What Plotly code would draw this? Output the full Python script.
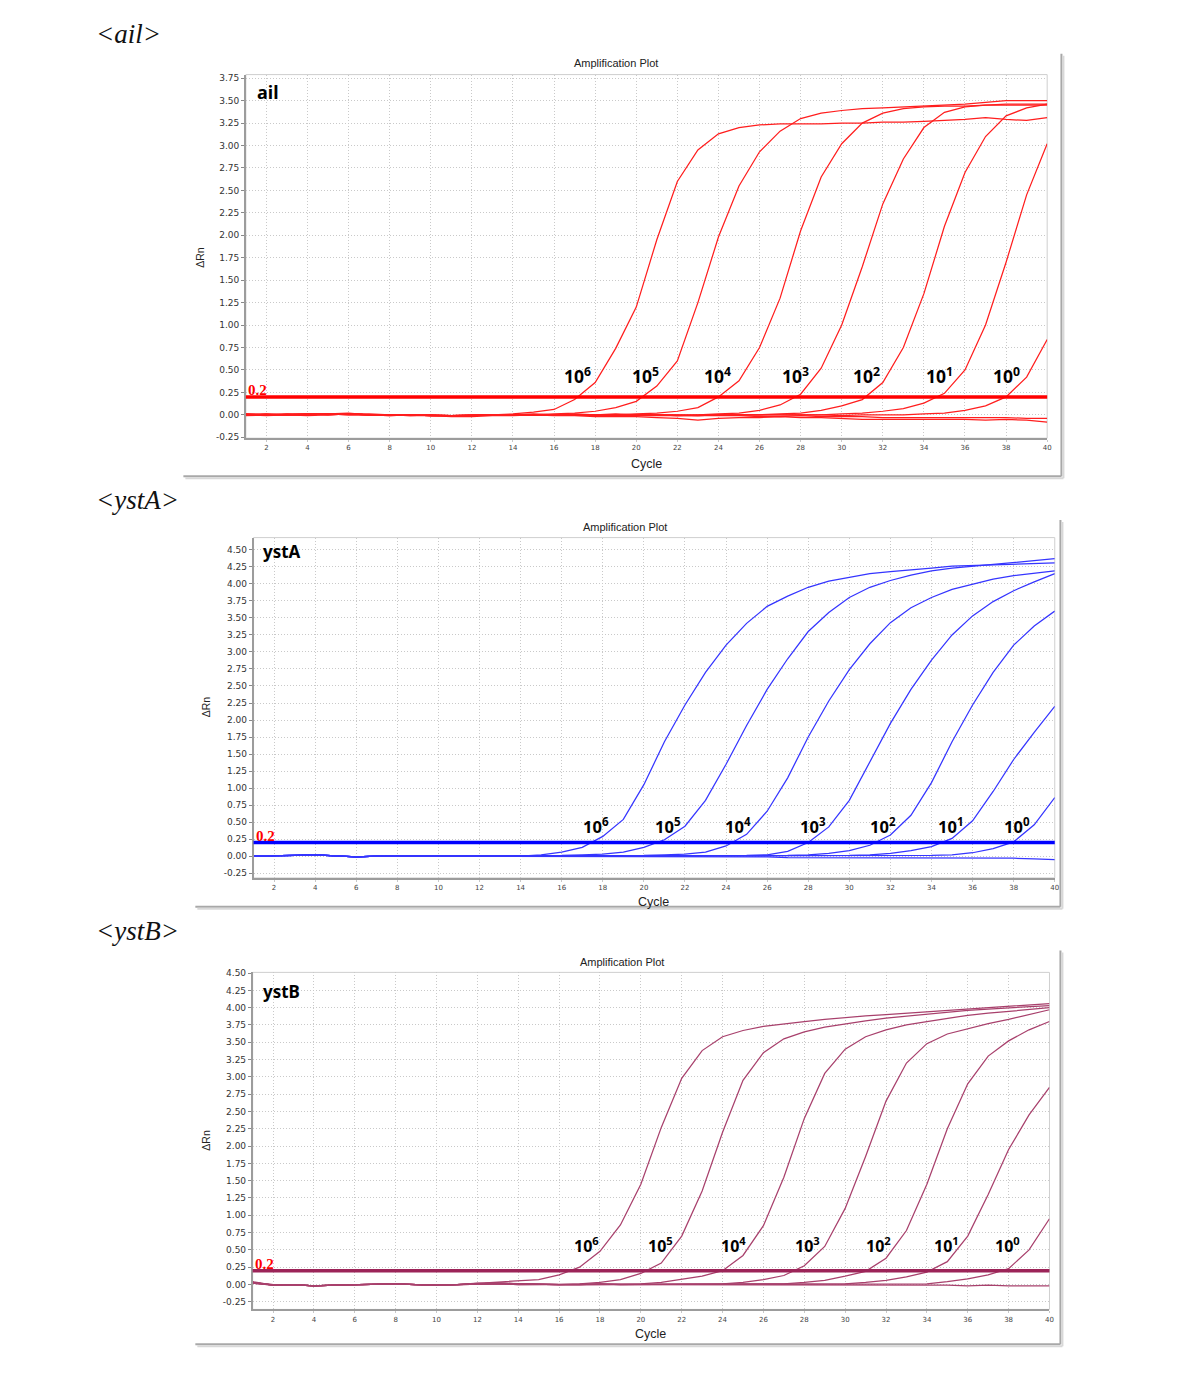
import plotly.graph_objects as go

# ---------------- DATA ----------------
cycles = list(range(1, 41))
dilution_labels = ["10<sup>6</sup>", "10<sup>5</sup>", "10<sup>4</sup>", "10<sup>3</sup>",
                   "10<sup>2</sup>", "10<sup>1</sup>", "10<sup>0</sup>"]
threshold = 0.2

# ail  (delta Rn per cycle)
ail_e6 = [-0.01, 0.00, 0.00, 0.01, 0.01, 0.02, 0.00, 0.00, 0.00, -0.01, -0.01, -0.01, 0.00, 0.01, 0.03, 0.06, 0.17, 0.36, 0.74, 1.20,
          1.95, 2.60, 2.95, 3.13, 3.20, 3.23, 3.24, 3.24, 3.24, 3.25, 3.25, 3.26, 3.26, 3.27, 3.28, 3.29, 3.31, 3.29, 3.28, 3.31]
ail_e5 = [0.00, 0.01, 0.00, 0.00, 0.01, 0.01, 0.00, -0.01, 0.00, 0.00, -0.01, -0.01, 0.00, 0.00, 0.00, 0.01, 0.02, 0.04, 0.08, 0.15,
          0.32, 0.60, 1.25, 1.98, 2.55, 2.93, 3.16, 3.30, 3.36, 3.39, 3.41, 3.42, 3.43, 3.44, 3.45, 3.46, 3.48, 3.50, 3.50, 3.50]
ail_e4 = [0.00, 0.00, 0.01, 0.01, 0.00, 0.01, 0.01, 0.00, 0.00, -0.01, -0.01, 0.00, 0.00, 0.00, 0.01, 0.00, 0.00, 0.00, 0.00, 0.01,
          0.02, 0.04, 0.08, 0.20, 0.38, 0.75, 1.30, 2.05, 2.65, 3.02, 3.25, 3.36, 3.41, 3.43, 3.44, 3.44, 3.45, 3.45, 3.45, 3.45]
ail_e3 = [0.01, 0.00, 0.00, 0.01, 0.00, 0.01, 0.00, 0.00, -0.01, 0.00, -0.01, -0.01, 0.00, 0.00, 0.00, 0.00, 0.01, 0.00, 0.00, 0.00,
          0.00, 0.00, 0.00, 0.01, 0.02, 0.05, 0.11, 0.23, 0.52, 1.00, 1.65, 2.35, 2.85, 3.20, 3.37, 3.43, 3.45, 3.46, 3.46, 3.46]
ail_e2 = [0.00, -0.01, 0.00, 0.00, 0.01, 0.01, 0.00, 0.00, 0.00, -0.01, -0.01, 0.00, 0.00, 0.00, 0.00, 0.00, 0.00, 0.00, 0.01, 0.00,
          0.00, -0.01, -0.01, 0.00, 0.00, 0.00, 0.01, 0.02, 0.05, 0.10, 0.17, 0.36, 0.75, 1.35, 2.10, 2.70, 3.10, 3.33, 3.42, 3.46]
ail_e1 = [0.01, 0.00, 0.00, 0.01, 0.01, 0.00, 0.00, -0.01, 0.00, 0.00, -0.01, 0.00, 0.00, 0.00, 0.00, 0.00, 0.00, 0.00, 0.00, 0.00,
          0.00, -0.01, 0.00, 0.00, 0.00, 0.00, 0.00, 0.00, 0.00, 0.01, 0.02, 0.04, 0.07, 0.13, 0.24, 0.50, 1.00, 1.70, 2.45, 3.02]
ail_e0 = [0.00, 0.00, 0.01, 0.00, 0.01, 0.01, 0.00, 0.00, 0.00, -0.01, -0.01, -0.01, 0.00, 0.00, 0.00, 0.00, 0.00, 0.00, 0.00, 0.00,
          0.00, 0.00, -0.01, 0.00, 0.00, 0.00, 0.00, 0.00, 0.00, -0.01, 0.00, 0.00, 0.00, 0.01, 0.02, 0.05, 0.10, 0.20, 0.42, 0.84]
ail_ntc1 = [0.00, 0.01, 0.00, -0.01, 0.00, 0.01, 0.00, 0.00, -0.01, -0.01, -0.02, -0.02, -0.01, -0.01, 0.00, -0.01, -0.01, -0.02, -0.02, -0.02,
            -0.03, -0.04, -0.06, -0.04, -0.03, -0.03, -0.02, -0.03, -0.03, -0.04, -0.05, -0.05, -0.05, -0.05, -0.05, -0.05, -0.06, -0.05, -0.06, -0.08]
ail_ntc2 = [0.01, 0.00, 0.00, 0.00, 0.01, 0.00, 0.00, 0.00, 0.00, -0.01, -0.01, -0.01, 0.00, 0.00, 0.00, 0.00, 0.00, -0.01, -0.01, -0.01,
            -0.01, -0.01, -0.01, -0.01, -0.01, -0.02, -0.02, -0.01, -0.02, -0.02, -0.02, -0.03, -0.03, -0.03, -0.03, -0.03, -0.03, -0.03, -0.04, -0.04]
ail_ct = [17.18, 20.5, 23.98, 27.78, 31.26, 34.82, 38.06]

# ystA
ystA_e6 = [0.00, 0.00, 0.01, 0.02, 0.01, -0.01, 0.00, 0.00, 0.00, 0.00, 0.00, 0.00, 0.00, 0.00, 0.02, 0.06, 0.13, 0.29, 0.54, 1.05,
           1.68, 2.22, 2.70, 3.10, 3.42, 3.67, 3.82, 3.95, 4.04, 4.10, 4.15, 4.18, 4.20, 4.23, 4.26, 4.27, 4.28, 4.29, 4.30, 4.31]
ystA_e5 = [0.00, 0.00, 0.01, 0.02, 0.01, -0.01, 0.00, 0.00, 0.00, 0.00, 0.00, 0.00, 0.00, 0.00, 0.01, 0.01, 0.02, 0.03, 0.06, 0.13,
           0.24, 0.44, 0.82, 1.35, 1.92, 2.45, 2.90, 3.30, 3.58, 3.80, 3.95, 4.05, 4.13, 4.19, 4.23, 4.26, 4.29, 4.32, 4.35, 4.37]
ystA_e4 = [0.00, 0.00, 0.01, 0.02, 0.01, -0.01, 0.00, 0.00, 0.00, 0.00, 0.00, 0.00, 0.00, 0.00, 0.00, 0.00, 0.00, 0.00, 0.01, 0.01,
           0.02, 0.03, 0.06, 0.15, 0.32, 0.66, 1.15, 1.75, 2.28, 2.74, 3.12, 3.43, 3.65, 3.80, 3.92, 4.00, 4.07, 4.12, 4.16, 4.19]
ystA_e3 = [0.00, 0.00, 0.01, 0.02, 0.01, -0.01, 0.00, 0.00, 0.00, 0.00, 0.00, 0.00, 0.00, 0.00, 0.00, 0.00, 0.00, 0.00, 0.00, 0.00,
           0.00, 0.00, 0.01, 0.01, 0.01, 0.02, 0.07, 0.20, 0.43, 0.82, 1.38, 1.95, 2.45, 2.88, 3.25, 3.53, 3.74, 3.90, 4.03, 4.15]
ystA_e2 = [0.00, 0.00, 0.01, 0.02, 0.01, -0.01, 0.00, 0.00, 0.00, 0.00, 0.00, 0.00, 0.00, 0.00, 0.00, 0.00, 0.00, 0.00, 0.00, 0.00,
           0.00, 0.00, 0.00, 0.00, 0.00, 0.00, 0.01, 0.02, 0.04, 0.08, 0.16, 0.31, 0.60, 1.08, 1.68, 2.22, 2.70, 3.10, 3.38, 3.60]
ystA_e1 = [0.00, 0.00, 0.01, 0.02, 0.01, -0.01, 0.00, 0.00, 0.00, 0.00, 0.00, 0.00, 0.00, 0.00, 0.00, 0.00, 0.00, 0.00, 0.00, 0.00,
           0.00, 0.00, 0.00, 0.00, 0.00, 0.00, 0.00, 0.00, 0.00, 0.01, 0.02, 0.04, 0.08, 0.14, 0.26, 0.52, 0.95, 1.42, 1.82, 2.20]
ystA_e0 = [0.00, 0.00, 0.01, 0.02, 0.01, -0.01, 0.00, 0.00, 0.00, 0.00, 0.00, 0.00, 0.00, 0.00, 0.00, 0.00, 0.00, 0.00, 0.00, 0.00,
           0.00, 0.00, 0.00, 0.00, 0.00, 0.00, 0.00, 0.00, 0.00, 0.00, 0.00, 0.00, 0.00, 0.01, 0.02, 0.05, 0.11, 0.21, 0.46, 0.86]
ystA_ntc = [0.00, 0.00, 0.01, 0.02, 0.01, -0.01, 0.00, 0.00, 0.00, 0.00, 0.00, 0.00, 0.00, 0.00, 0.00, 0.00, 0.00, 0.00, 0.00, 0.00,
            0.00, 0.00, 0.00, 0.00, 0.00, -0.01, -0.02, -0.02, -0.02, -0.02, -0.02, -0.02, -0.02, -0.03, -0.03, -0.03, -0.03, -0.03, -0.04, -0.05]
ystA_ct = [17.41, 20.93, 24.32, 27.99, 31.38, 34.69, 37.91]

# ystB
ystB_e6 = [0.04, -0.01, 0.00, -0.02, -0.01, 0.00, 0.00, 0.01, 0.00, -0.01, 0.00, 0.02, 0.03, 0.05, 0.07, 0.14, 0.25, 0.48, 0.86, 1.45,
           2.27, 2.98, 3.38, 3.58, 3.67, 3.73, 3.77, 3.80, 3.83, 3.86, 3.88, 3.90, 3.92, 3.95, 3.97, 3.99, 4.01, 4.03, 4.05, 4.06]
ystB_e5 = [0.03, 0.00, 0.00, -0.02, -0.01, 0.00, 0.00, 0.01, 0.00, -0.01, 0.00, 0.02, 0.02, 0.01, 0.00, 0.00, 0.01, 0.03, 0.07, 0.16,
           0.31, 0.70, 1.35, 2.20, 2.95, 3.35, 3.55, 3.65, 3.72, 3.77, 3.81, 3.85, 3.88, 3.91, 3.94, 3.96, 3.98, 4.00, 4.02, 4.03]
ystB_e4 = [0.02, -0.01, 0.00, -0.02, -0.01, 0.00, 0.00, 0.01, 0.00, -0.01, 0.00, 0.01, 0.01, 0.00, 0.00, 0.00, 0.00, 0.01, 0.01, 0.01,
           0.03, 0.07, 0.12, 0.20, 0.42, 0.85, 1.55, 2.40, 3.05, 3.40, 3.58, 3.68, 3.75, 3.80, 3.85, 3.89, 3.92, 3.95, 3.98, 4.00]
ystB_e3 = [0.03, -0.01, 0.00, -0.02, -0.01, 0.00, 0.00, 0.01, 0.00, -0.01, 0.00, 0.01, 0.02, 0.01, 0.00, 0.00, 0.00, 0.01, 0.00, 0.00,
           0.00, 0.01, 0.01, 0.01, 0.03, 0.07, 0.13, 0.27, 0.55, 1.10, 1.85, 2.65, 3.20, 3.48, 3.62, 3.70, 3.77, 3.83, 3.90, 3.97]
ystB_e2 = [0.02, 0.00, 0.00, -0.02, -0.01, 0.00, 0.00, 0.01, 0.00, -0.01, 0.00, 0.01, 0.01, 0.01, 0.00, 0.00, 0.00, 0.00, 0.00, 0.00,
           0.00, 0.00, 0.01, 0.00, 0.00, 0.00, 0.01, 0.03, 0.06, 0.12, 0.19, 0.38, 0.78, 1.45, 2.25, 2.90, 3.30, 3.52, 3.68, 3.80]
ystB_e1 = [0.03, -0.01, 0.00, -0.02, -0.01, 0.00, 0.00, 0.01, 0.00, -0.01, 0.00, 0.01, 0.02, 0.01, 0.00, 0.00, 0.00, 0.00, 0.00, 0.00,
           0.00, 0.00, 0.00, 0.00, 0.00, 0.01, 0.00, 0.00, 0.00, 0.01, 0.03, 0.06, 0.11, 0.18, 0.33, 0.70, 1.30, 1.95, 2.45, 2.85]
ystB_e0 = [0.02, -0.01, 0.00, -0.02, -0.01, 0.00, 0.00, 0.01, 0.00, -0.01, 0.00, 0.01, 0.01, 0.00, 0.00, 0.00, 0.00, 0.00, 0.00, 0.00,
           0.00, 0.00, 0.00, 0.00, 0.00, 0.00, 0.00, 0.00, 0.00, 0.00, 0.00, 0.00, 0.00, 0.01, 0.04, 0.08, 0.14, 0.23, 0.50, 0.95]
ystB_ntc = [0.03, -0.01, 0.00, -0.02, -0.01, 0.00, 0.00, 0.01, 0.00, -0.01, 0.00, 0.01, 0.02, 0.01, 0.00, 0.00, 0.00, 0.01, 0.00, 0.00,
            0.00, 0.00, 0.00, 0.00, 0.00, -0.01, 0.00, 0.00, -0.01, -0.01, -0.01, 0.00, -0.01, -0.01, -0.01, -0.02, -0.01, -0.02, -0.02, -0.02]
ystB_ct = [16.8, 20.4, 24.0, 27.6, 31.1, 34.4, 37.4]

# ---------------- LAYOUT HELPERS ----------------
W, H = 1194, 1386


def px(x):
    return x / W


def py(y):
    return 1 - y / H


panels = [
    dict(gene="ail", curves=[ail_e6, ail_e5, ail_e4, ail_e3, ail_e2, ail_e1, ail_e0, ail_ntc1, ail_ntc2],
         ct=ail_ct, color="#ff1e1e", thr_color="#ff0000",
         box=(246.7, 1050.7, 71, 436.7), yrange=[-0.26, 3.79], ymax=3.75,
         card=(184, 50, 1065, 475), head_y=30, title_xy=(618, 59), yt_xy=(200, 255), xt_xy=(649, 463),
         gene_xy=(256, 89), gene_size=18, lab_y=0.44, lab_dx=-0.05, lab_size=17.5),
    dict(gene="ystA", curves=[ystA_e6, ystA_e5, ystA_e4, ystA_e3, ystA_e2, ystA_e1, ystA_e0, ystA_ntc],
         ct=ystA_ct, color="#3535ff", thr_color="#0000ff",
         box=(254.4, 1058.3, 536.7, 879), yrange=[-0.32, 4.68], ymax=4.5,
         card=(196, 519, 1064, 908), head_y=499, title_xy=(627, 526), yt_xy=(207, 707), xt_xy=(656, 903),
         gene_xy=(262, 551), gene_size=17, lab_y=0.44, lab_dx=0.25, lab_size=16.5),
    dict(gene="ystB", curves=[ystB_e6, ystB_e5, ystB_e4, ystB_e3, ystB_e2, ystB_e1, ystB_e0, ystB_ntc],
         ct=ystB_ct, color="#a8406c", thr_color="#9c2458",
         box=(253.5, 1053, 974, 1313), yrange=[-0.36, 4.51], ymax=4.5,
         card=(196, 952, 1064, 1348), head_y=932, title_xy=(624, 964), yt_xy=(207, 1143), xt_xy=(653, 1338),
         gene_xy=(262, 993), gene_size=17, lab_y=0.57, lab_dx=0.55, lab_size=16),
]

fig = go.Figure()
shapes = []
annotations = []
layout_axes = {}

for i, p in enumerate(panels):
    n = "" if i == 0 else str(i + 1)
    xa, ya = "x" + n, "y" + n
    x0, x1, ytop, ybot = p["box"]

    for c in p["curves"]:
        fig.add_trace(go.Scatter(x=cycles, y=c, mode="lines", xaxis=xa, yaxis=ya,
                                 line=dict(color=p["color"], width=1.25), hoverinfo="skip"))

    yt = []
    v = -0.25
    while v <= p["ymax"] + 1e-9:
        yt.append(round(v, 2))
        v += 0.25

    layout_axes["xaxis" + n] = dict(
        domain=[px(x0), px(x1)], range=[1, 40], anchor=ya,
        tickvals=list(range(2, 41, 2)), ticks="outside", ticklen=2, tickcolor="#c8c8c8",
        tickfont=dict(family="DejaVu Sans", size=7, color="#444"),
        showgrid=True, gridcolor="#c9c9c9", griddash="1px,2px", gridwidth=1,
        showline=True, linecolor="#9c9c9c", linewidth=1.5, zeroline=False)
    layout_axes["yaxis" + n] = dict(
        domain=[py(ybot), py(ytop)], range=p["yrange"], anchor=xa,
        tickvals=yt, ticktext=[f"{t:.2f}" for t in yt], ticks="outside", ticklen=3, tickcolor="#888",
        tickfont=dict(family="DejaVu Sans", size=9, color="#333"),
        showgrid=True, gridcolor="#c9c9c9", griddash="1px,2px", gridwidth=1,
        showline=True, linecolor="#9c9c9c", linewidth=1.5, zeroline=False)

    # plot-area light border (top/right)
    shapes.append(dict(type="rect", xref=xa + " domain", yref=ya + " domain", x0=0, x1=1, y0=0, y1=1,
                       line=dict(color="#cfcfcf", width=1), layer="below"))
    # threshold line
    shapes.append(dict(type="line", xref=xa + " domain", yref=ya, x0=0, x1=1, y0=threshold, y1=threshold,
                       line=dict(color=p["thr_color"], width=3.5), layer="above"))
    # card shadow (right and bottom)
    cl, ct_, cr, cb = p["card"]
    for off, col, wd in [(0, "#a8a8a8", 2), (2, "#d8d8d8", 2)]:
        shapes.append(dict(type="line", xref="paper", yref="paper", x0=px(cr + off), x1=px(cr + off),
                           y0=py(ct_ + off), y1=py(cb + off), line=dict(color=col, width=wd)))
        shapes.append(dict(type="line", xref="paper", yref="paper", x0=px(cl + off), x1=px(cr + off),
                           y0=py(cb + off), y1=py(cb + off), line=dict(color=col, width=wd)))

    # section heading
    annotations.append(dict(xref="paper", yref="paper", x=px(94), y=py(p["head_y"]), xanchor="left", yanchor="middle",
                            text="&lt;" + p["gene"] + "&gt;", showarrow=False,
                            font=dict(family="Liberation Serif", size=27, color="#111", style="italic")))
    # titles
    tx, ty = p["title_xy"]
    annotations.append(dict(xref="paper", yref="paper", x=px(tx), y=py(ty), xanchor="center", yanchor="middle",
                            text="Amplification Plot", showarrow=False,
                            font=dict(family="Liberation Sans", size=11, color="#222")))
    yx, yy = p["yt_xy"]
    annotations.append(dict(xref="paper", yref="paper", x=px(yx), y=py(yy), xanchor="center", yanchor="middle",
                            text="ΔRn", textangle=-90, showarrow=False,
                            font=dict(family="Liberation Sans", size=10.5, color="#222")))
    cx, cy = p["xt_xy"]
    annotations.append(dict(xref="paper", yref="paper", x=px(cx), y=py(cy), xanchor="center", yanchor="middle",
                            text="Cycle", showarrow=False,
                            font=dict(family="Liberation Sans", size=12.5, color="#222")))
    gx, gy = p["gene_xy"]
    annotations.append(dict(xref="paper", yref="paper", x=px(gx), y=py(gy), xanchor="left", yanchor="middle",
                            text="<b>" + p["gene"] + "</b>", showarrow=False,
                            font=dict(family="Noto Sans", size=p["gene_size"], color="#000")))
    # threshold value label
    annotations.append(dict(xref=xa, yref=ya, x=1, y=threshold, xanchor="left", yanchor="bottom", yshift=-3,
                            text="<b>0.2</b>", showarrow=False,
                            font=dict(family="Liberation Serif", size=15, color="#ff0000")))
    # dilution labels
    for lab, c in zip(dilution_labels, p["ct"]):
        annotations.append(dict(xref=xa, yref=ya, x=c + p["lab_dx"], y=p["lab_y"], xanchor="center", yanchor="middle",
                                text="<b>" + lab + "</b>", showarrow=False,
                                font=dict(family="Noto Sans", size=p["lab_size"], color="#000")))

fig.update_layout(width=W, height=H, margin=dict(l=0, r=0, t=0, b=0),
                  paper_bgcolor="white", plot_bgcolor="white", showlegend=False,
                  shapes=shapes, annotations=annotations, **layout_axes)

fig.write_html("out.html", post_script="document.body.style.margin='0px';")
